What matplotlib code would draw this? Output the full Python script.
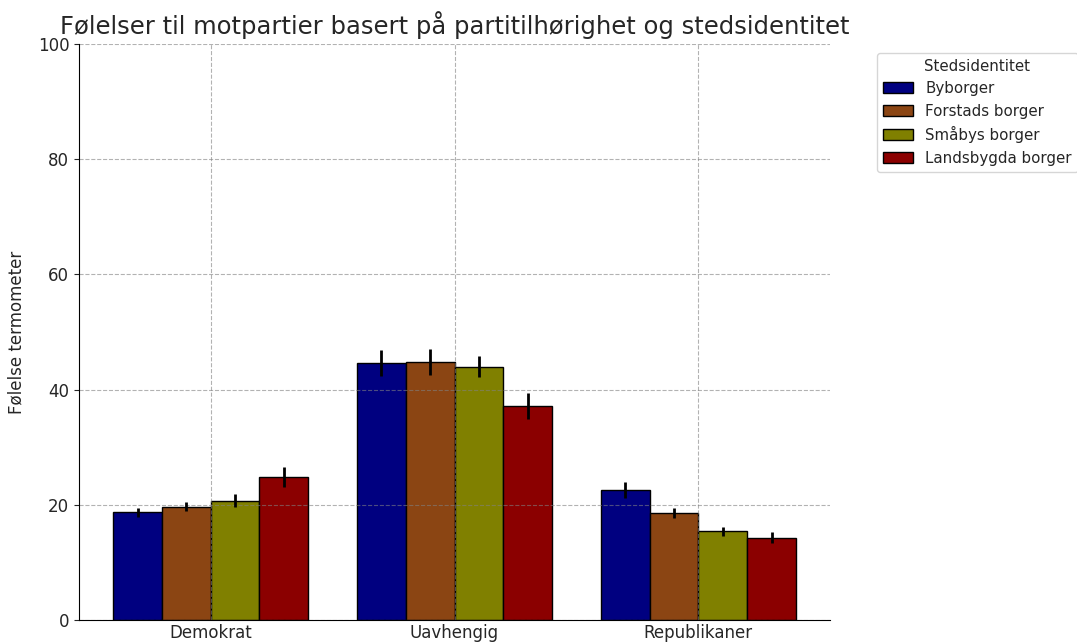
import numpy as np
import matplotlib
matplotlib.use("Agg")
import matplotlib.pyplot as plt

parties = ["Demokrat", "Uavhengig", "Republikaner"]
groups = ["Byborger", "Forstads borger", "Småbys borger", "Landsbygda borger"]
colors = ["#000080", "#8B4513", "#808000", "#8B0000"]

# mean feeling per party, one list per place identity
byborger = [18.7, 44.6, 22.6]
forstad = [19.7, 44.8, 18.6]
smaby = [20.7, 44.0, 15.4]
landsbygd = [24.8, 37.1, 14.3]
means = [byborger, forstad, smaby, landsbygd]

# half-width of error bars
err_by = [0.8, 2.25, 1.35]
err_forstad = [0.8, 2.2, 0.85]
err_smaby = [1.15, 1.85, 0.8]
err_land = [1.7, 2.25, 0.95]
errs = [err_by, err_forstad, err_smaby, err_land]

TXT = "#262626"
plt.rcParams["text.color"] = TXT
plt.rcParams["xtick.color"] = TXT
plt.rcParams["ytick.color"] = TXT
plt.rcParams["axes.labelcolor"] = TXT

fig = plt.figure(figsize=(10.77, 6.44), dpi=100)
ax = fig.add_axes([0.0734, 0.0373, 0.6973, 0.8944])

x = np.arange(len(parties))
w = 0.2
for i, (g, c, m, e) in enumerate(zip(groups, colors, means, errs)):
    ax.bar(x + (i - 1.5) * w, m, w, yerr=e, color=c, edgecolor="black",
           linewidth=1.0, label=g, error_kw=dict(ecolor="black", elinewidth=2, capsize=0))

ax.set_xticks(x)
ax.set_xticklabels(parties, fontsize=12)
ax.tick_params(axis="x", length=0, pad=3)
ax.set_ylim(0, 100)
ax.set_yticks([0, 20, 40, 60, 80, 100])
ax.tick_params(axis="y", labelsize=12)
ax.set_ylabel("Følelse termometer", fontsize=12, labelpad=9)
ax.set_title("Følelser til motpartier basert på partitilhørighet og stedsidentitet",
             fontsize=17.5, pad=7)
ax.grid(True, linestyle="--", color="gray", alpha=0.6, linewidth=0.8)
for sp in ["top", "right"]:
    ax.spines[sp].set_visible(False)
ax.legend(title="Stedsidentitet", loc="upper left", bbox_to_anchor=(1.062, 0.985),
          borderaxespad=0, fontsize=10.8, title_fontsize=10.8,
          handlelength=2.05, handleheight=0.75, labelspacing=0.5)

fig.savefig("out.png", dpi=100)
